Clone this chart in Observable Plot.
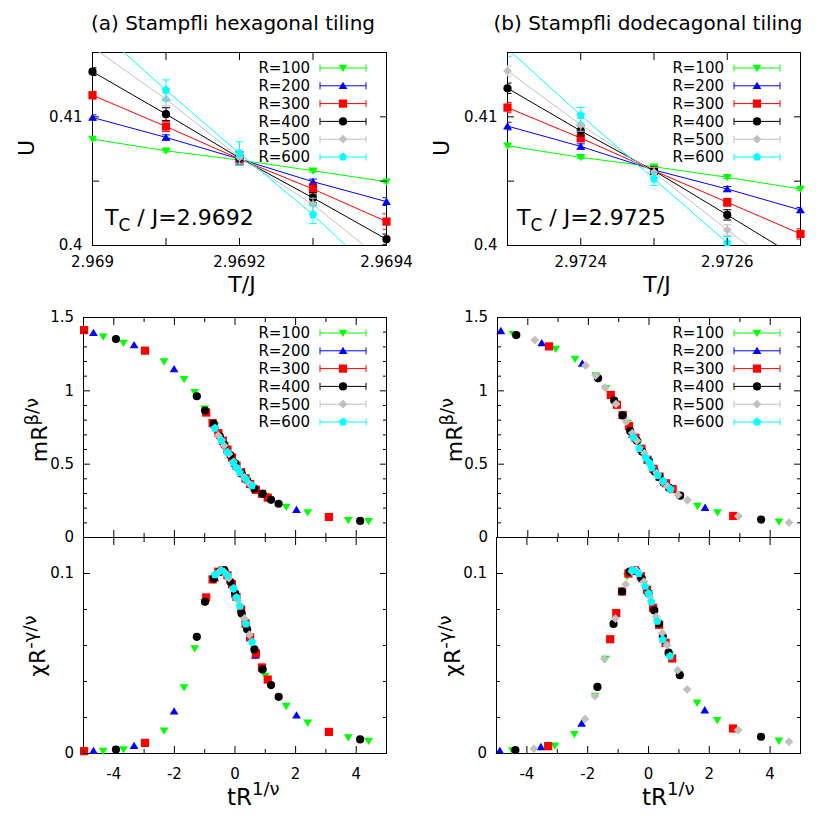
<!DOCTYPE html>
<html>
<head>
<meta charset="utf-8">
<script src="https://cdn.jsdelivr.net/npm/d3@7"></script>
<script src="https://cdn.jsdelivr.net/npm/@observablehq/plot@0.6"></script>
<style>
html,body{margin:0;padding:0;background:#fff;}
#chart{position:relative;width:830px;height:830px;overflow:hidden;background:#fff;}
</style>
</head>
<body>
<div id="chart"></div>
<script>
// ---------------- series ----------------
const seriesR = [100, 200, 300, 400, 500, 600];
const seriesColors = ["#00ff00", "#0000ff", "#ff0000", "#000000", "#c0c0c0", "#00ffff"];

// ---------------- top panels: Binder cumulant U vs T/J ----------------
const tempA = [2.969, 2.9691, 2.9692, 2.9693, 2.9694];
const uA100 = [0.40827, 0.40736, 0.40664, 0.40581, 0.40496];
const uA200 = [0.40995, 0.40840, 0.40672, 0.40496, 0.40341];
const uA300 = [0.41168, 0.40925, 0.40672, 0.40439, 0.40186];
const uA400 = [0.41351, 0.41021, 0.40680, 0.40370, 0.40049];
const uA500 = [0.41540, 0.41137, 0.40685, 0.40318, 0.39860];
const uA600 = [0.41722, 0.41207, 0.40716, 0.40240, 0.39700];
const eA100 = [0.0001, 0.0001, 0.0001, 0.0001, 0.0001];
const eA200 = [0.0002, 0.0002, 0.0003, 0.0002, 0.0003];
const eA300 = [0.0003, 0.0004, 0.0005, 0.0004, 0.0006];
const eA400 = [0.0003, 0.0005, 0.0005, 0.0004, 0.0004];
const eA500 = [0.0004, 0.0005, 0.0006, 0.0005, 0.0005];
const eA600 = [0.0006, 0.0008, 0.0009, 0.0007, 0.0007];

const tempB = [2.9723, 2.9724, 2.9725, 2.9726, 2.9727];
const uB100 = [0.40775, 0.40685, 0.40612, 0.40530, 0.40439];
const uB200 = [0.40928, 0.40770, 0.40587, 0.40439, 0.40276];
const uB300 = [0.41072, 0.40835, 0.40581, 0.40336, 0.40090];
const uB400 = [0.41222, 0.40891, 0.40581, 0.40238, 0.39891];
const uB500 = [0.41357, 0.40938, 0.40568, 0.40121, 0.39700];
const uB600 = [0.41530, 0.41013, 0.40517, 0.40021, 0.39510];
const eB100 = [0.0001, 0.0001, 0.0001, 0.0001, 0.0001];
const eB200 = [0.0003, 0.0002, 0.0002, 0.0002, 0.0002];
const eB300 = [0.0004, 0.0003, 0.0003, 0.0003, 0.0004];
const eB400 = [0.0004, 0.0004, 0.0003, 0.0004, 0.0004];
const eB500 = [0.0004, 0.0005, 0.0004, 0.0004, 0.0004];
const eB600 = [0.0006, 0.0006, 0.0005, 0.0005, 0.0005];

const tcLabels = ["2.9692", "2.9725"];

// ---------------- scaling collapse (a) ----------------
const xA100 = [-4.35, -3.68, -2.34, -1.68, -1.33, -1.00, -0.67, -0.33, 0.00, 0.33, 0.67, 1.00, 1.69, 2.40, 3.74, 4.41];
const mA100 = [1.369, 1.326, 1.199, 1.079, 0.990, 0.877, 0.765, 0.630, 0.505, 0.410, 0.330, 0.282, 0.208, 0.170, 0.118, 0.111];
const cA100 = [0.0013, 0.0022, 0.0126, 0.0367, 0.0583, 0.0840, 0.0975, 0.1005, 0.0885, 0.0730, 0.0545, 0.0430, 0.0263, 0.0170, 0.0089, 0.0069];
const xA200 = [-4.67, -3.33, -2.01, -0.67, 0.00, 0.67, 2.03];
const mA200 = [1.396, 1.312, 1.149, 0.765, 0.505, 0.330, 0.190];
const cA200 = [0.0015, 0.0043, 0.0235, 0.0975, 0.0885, 0.0545, 0.0213];
const xA300 = [-4.98, -2.97, -0.95, -0.74, -0.55, -0.40, -0.25, -0.10, 0.05, 0.20, 0.35, 0.50, 0.69, 0.89, 1.08, 3.10];
const mA300 = [1.414, 1.274, 0.852, 0.780, 0.712, 0.660, 0.600, 0.545, 0.490, 0.445, 0.402, 0.365, 0.325, 0.298, 0.272, 0.140];
const cA300 = [0.0013, 0.0059, 0.0867, 0.0967, 0.1010, 0.1018, 0.0990, 0.0940, 0.0870, 0.0800, 0.0720, 0.0645, 0.0556, 0.0478, 0.0411, 0.0120];
const xA400 = [-3.93, -1.26, -0.99, -0.70, -0.50, -0.35, -0.15, 0.00, 0.22, 0.40, 0.64, 0.91, 1.19, 1.44, 4.13];
const mA400 = [1.353, 0.963, 0.866, 0.775, 0.690, 0.630, 0.560, 0.505, 0.435, 0.390, 0.333, 0.298, 0.257, 0.230, 0.113];
const cA400 = [0.0022, 0.0648, 0.0843, 0.0972, 0.1010, 0.1018, 0.0954, 0.0890, 0.0778, 0.0690, 0.0578, 0.0467, 0.0380, 0.0315, 0.0078];
const xA500 = [-0.55, -0.46, -0.36, -0.20, -0.05, 0.10, 0.31, 0.47];
const mA500 = [0.695, 0.665, 0.627, 0.570, 0.515, 0.465, 0.410, 0.368];
const cA500 = [0.1005, 0.1019, 0.1010, 0.0975, 0.0915, 0.0850, 0.0750, 0.0660];
const xA600 = [-0.66, -0.44, -0.25, -0.05, 0.05, 0.16, 0.36, 0.56];
const mA600 = [0.745, 0.661, 0.582, 0.512, 0.476, 0.442, 0.398, 0.354];
const cA600 = [0.0994, 0.1015, 0.0990, 0.0917, 0.0867, 0.0819, 0.0720, 0.0620];

// ---------------- scaling collapse (b) ----------------
const xB100 = [-4.48, -3.08, -2.44, -1.76, -1.42, -1.06, -0.70, -0.35, 0.00, 0.35, 0.70, 1.00, 1.60, 2.26, 4.29];
const mB100 = [1.385, 1.285, 1.217, 1.104, 1.018, 0.905, 0.780, 0.645, 0.515, 0.410, 0.335, 0.288, 0.215, 0.170, 0.107];
const cB100 = [0.0016, 0.0043, 0.0107, 0.0319, 0.0525, 0.0780, 0.0985, 0.0990, 0.0890, 0.0715, 0.0548, 0.0440, 0.0281, 0.0185, 0.0070];
const xB200 = [-4.89, -3.54, -2.20, -0.87, -0.55, -0.20, 0.15, 0.50, 1.85];
const mB200 = [1.409, 1.326, 1.187, 0.832, 0.705, 0.585, 0.470, 0.375, 0.204];
const cB200 = [0.0015, 0.0037, 0.0167, 0.0900, 0.1010, 0.0970, 0.0815, 0.0635, 0.0241];
const xB300 = [-3.30, -1.26, -1.06, -0.87, -0.66, -0.45, -0.25, -0.05, 0.15, 0.35, 0.56, 0.78, 2.78];
const mB300 = [1.303, 0.972, 0.905, 0.835, 0.760, 0.680, 0.605, 0.530, 0.468, 0.415, 0.370, 0.330, 0.147];
const cB300 = [0.0041, 0.0635, 0.0780, 0.0900, 0.1000, 0.1018, 0.0985, 0.0910, 0.0810, 0.0715, 0.0615, 0.0528, 0.0139];
const xB400 = [-4.38, -1.68, -1.15, -0.87, -0.62, -0.40, -0.22, 0.00, 0.19, 0.34, 0.47, 0.66, 1.03, 3.70];
const mB400 = [1.380, 1.085, 0.934, 0.832, 0.725, 0.660, 0.585, 0.520, 0.450, 0.410, 0.380, 0.340, 0.285, 0.122];
const cB400 = [0.0019, 0.0370, 0.0720, 0.0900, 0.1010, 0.1015, 0.0972, 0.0890, 0.0795, 0.0722, 0.0650, 0.0560, 0.0435, 0.0093];
const xB500 = [-3.77, -2.09, -1.76, -1.45, -1.09, -0.75, -0.55, -0.40, -0.15, 0.05, 0.25, 0.45, 0.61, 0.96, 1.27, 2.95, 4.62];
const mB500 = [1.346, 1.172, 1.104, 1.022, 0.911, 0.790, 0.712, 0.660, 0.575, 0.500, 0.440, 0.380, 0.350, 0.290, 0.254, 0.145, 0.102];
const cB500 = [0.0026, 0.0191, 0.0319, 0.0525, 0.0750, 0.0940, 0.1012, 0.1018, 0.0955, 0.0870, 0.0760, 0.0670, 0.0602, 0.0463, 0.0356, 0.0130, 0.0065];
const xB600 = [-0.52, -0.32, -0.11, 0.00, 0.09, 0.29, 0.47, 0.71];
const mB600 = [0.684, 0.608, 0.545, 0.513, 0.475, 0.423, 0.385, 0.330];
const cB600 = [0.1018, 0.1000, 0.0929, 0.0889, 0.0842, 0.0735, 0.0633, 0.0541];

// ---------------- ticks ----------------
const topATicks = [2.969, 2.9691, 2.9692, 2.9693, 2.9694];
const topALabels = [2.969, 2.9692, 2.9694];
const topBTicks = [2.9723, 2.9724, 2.9725, 2.9726, 2.9727];
const topBLabels = [2.9724, 2.9726];
const uTicks = [0.4, 0.405, 0.41, 0.415];
const uLabels = [0.4, 0.41];
const scaleXMajor = [-4, -2, 0, 2, 4];
const scaleXMinor = [-5, -3, -1, 1, 3, 5];
const scaleXLabels = [-4, -2, 0, 2, 4];
const mYMajor = [0, 0.5, 1, 1.5];
const mYMinor = [0.1, 0.2, 0.3, 0.4, 0.6, 0.7, 0.8, 0.9, 1.1, 1.2, 1.3, 1.4];
const mYLabels = [0, 0.5, 1, 1.5];
const cYMajor = [0, 0.1];
const cYMinor = [0.02, 0.04, 0.06, 0.08, 0.12];
const cYLabels = [0, 0.1];

// ---------------- symbols ----------------
const FONT = "DejaVu Sans";
function poly(c, pts) { c.moveTo(pts[0][0], pts[0][1]); for (let k = 1; k < pts.length; k++) c.lineTo(pts[k][0], pts[k][1]); c.closePath(); }
const symTriDown = {draw(c) { poly(c, [[-4.4, -3.3], [4.4, -3.3], [0, 4.0]]); }};
const symTriUp = {draw(c) { poly(c, [[0, -4.0], [4.4, 3.3], [-4.4, 3.3]]); }};
const symSquare = {draw(c) { poly(c, [[-4.1, -4.1], [4.1, -4.1], [4.1, 4.1], [-4.1, 4.1]]); }};
const symCircle = {draw(c) { c.moveTo(4.1, 0); c.arc(0, 0, 4.1, 0, 2 * Math.PI); c.closePath(); }};
const symDiamond = {draw(c) { poly(c, [[0, -4.4], [4.4, 0], [0, 4.4], [-4.4, 0]]); }};
const symPent = {draw(c) { const r = 4.4, pts = []; for (let k = 0; k < 5; k++) { const a = -Math.PI / 2 + k * 2 * Math.PI / 5; pts.push([r * Math.cos(a), r * Math.sin(a)]); } poly(c, pts); }};
const symCap = {draw(c) { c.moveTo(-4, 0); c.lineTo(4, 0); }};
const seriesSymbols = [symTriDown, symTriUp, symSquare, symCircle, symDiamond, symPent];

const chart = document.getElementById("chart");
const fmt = d => String(d);
const TICK = 7, MINOR = 4;

function axisMarks(o) {
  const m = [];
  const xs = [[o.xMajor, TICK], [o.xMinor, MINOR]];
  const ys = [[o.yMajor, TICK], [o.yMinor, MINOR]];
  for (const [t, len] of xs) if (t.length) {
    m.push(Plot.axisX(t, {anchor: "bottom", tickSize: -len, fill: "none", label: null}));
    m.push(Plot.axisX(t, {anchor: "top", tickSize: -len, fill: "none", label: null}));
  }
  for (const [t, len] of ys) if (t.length) {
    m.push(Plot.axisY(t, {anchor: "left", tickSize: -len, fill: "none", label: null}));
    m.push(Plot.axisY(t, {anchor: "right", tickSize: -len, fill: "none", label: null}));
  }
  if (o.xLabels) m.push(Plot.axisX(o.xLabels, {anchor: "bottom", tickSize: 0, tickPadding: o.xPad, tickFormat: fmt, label: null}));
  m.push(Plot.axisY(o.yLabels, {anchor: "left", tickSize: 0, tickPadding: o.yPad, tickFormat: fmt, label: null}));
  return m;
}

function place(svg, left, top) {
  svg.style.position = "absolute";
  svg.style.left = left + "px";
  svg.style.top = top + "px";
  chart.appendChild(svg);
  return svg;
}

function addLegend(svg, fr, ft) {
  const g = d3.select(svg).append("g").attr("font-family", FONT);
  seriesR.forEach((R, i) => {
    const y = ft + 16 + 17.8 * i, col = seriesColors[i];
    g.append("text").attr("x", fr - 76).attr("y", y).attr("dy", "0.36em")
      .attr("text-anchor", "end").attr("font-size", 15).attr("fill", "black").text("R=" + R);
    g.append("path").attr("d", `M${fr - 66},${y}H${fr - 20}M${fr - 66},${y - 3.5}V${y + 3.5}M${fr - 20},${y - 3.5}V${y + 3.5}`)
      .attr("stroke", col).attr("stroke-width", 1).attr("fill", "none");
    const p = d3.path(); seriesSymbols[i].draw(p);
    g.append("path").attr("transform", `translate(${fr - 43},${y})`).attr("d", p.toString()).attr("fill", col);
  });
}

function topPanel(o) {
  const [ml, mr, mt, mb] = o.margins;
  const marks = [Plot.frame({stroke: "black"})];
  o.values.forEach((vals, i) => {
    const rows = o.temps.map((t, j) => ({t, u: vals[j], e: o.errors[i][j]}));
    const col = seriesColors[i];
    marks.push(Plot.line(rows, {x: "t", y: "u", stroke: col, strokeWidth: 1, clip: true}));
    marks.push(Plot.ruleX(rows, {x: "t", y1: d => d.u - d.e, y2: d => d.u + d.e, stroke: col, strokeWidth: 1, clip: true}));
    marks.push(Plot.dot(rows, {x: "t", y: d => d.u - d.e, symbol: symCap, r: 4, fill: "none", stroke: col, strokeWidth: 1, clip: true}));
    marks.push(Plot.dot(rows, {x: "t", y: d => d.u + d.e, symbol: symCap, r: 4, fill: "none", stroke: col, strokeWidth: 1, clip: true}));
    marks.push(Plot.dot(rows.filter(d => d.u >= o.yDomain[0] && d.u <= o.yDomain[1]),
      {x: "t", y: "u", symbol: seriesSymbols[i], r: 4, fill: col, stroke: "none"}));
  });
  marks.push(...axisMarks({xMajor: o.xTicks, xMinor: [], yMajor: uTicks, yMinor: [], xLabels: o.xLabels, yLabels: uLabels, xPad: 11, yPad: 10}));
  const svg = Plot.plot({
    width: 415, height: 300, marginLeft: ml, marginRight: mr, marginTop: mt, marginBottom: mb,
    x: {domain: o.xDomain, label: null},
    y: {domain: o.yDomain, label: null},
    style: {fontFamily: FONT, fontSize: "15px", background: "transparent", color: "black", overflow: "visible"},
    marks
  });
  place(svg, o.left, o.top);
  addLegend(svg, 415 - mr, mt);
  return svg;
}

function scatterPanel(o) {
  const [ml, mr, mt, mb] = o.margins;
  const marks = [Plot.frame({stroke: "black"})];
  o.xs.forEach((xv, i) => {
    const rows = xv.map((x, j) => ({x, y: o.ys[i][j]}));
    marks.push(Plot.dot(rows, {x: "x", y: "y", symbol: seriesSymbols[i], r: 4, fill: seriesColors[i], stroke: "none"}));
  });
  marks.push(...axisMarks({xMajor: scaleXMajor, xMinor: scaleXMinor, yMajor: o.yMajor, yMinor: o.yMinor,
    xLabels: o.xLabels, yLabels: o.yLabels, xPad: 15, yPad: 9.5}));
  const svg = Plot.plot({
    width: 415, height: o.height, marginLeft: ml, marginRight: mr, marginTop: mt, marginBottom: mb,
    x: {domain: [-5, 5], label: null},
    y: {domain: o.yDomain, label: null},
    style: {fontFamily: FONT, fontSize: "15px", background: "transparent", color: "black", overflow: "visible"},
    marks
  });
  place(svg, o.left, o.top);
  if (o.legend) addLegend(svg, 415 - mr, mt);
  return svg;
}

// ---- top row ----
topPanel({left: 0, top: 0, margins: [92, 29, 52, 55], xDomain: [2.969, 2.9694], yDomain: [0.4, 0.415],
  temps: tempA, values: [uA100, uA200, uA300, uA400, uA500, uA600],
  errors: [eA100, eA200, eA300, eA400, eA500, eA600], xTicks: topATicks, xLabels: topALabels});
topPanel({left: 415, top: 0, margins: [92, 30, 52, 55], xDomain: [2.9723, 2.9727], yDomain: [0.4, 0.415],
  temps: tempB, values: [uB100, uB200, uB300, uB400, uB500, uB600],
  errors: [eB100, eB200, eB300, eB400, eB500, eB600], xTicks: topBTicks, xLabels: topBLabels});

// ---- middle row: magnetization ----
scatterPanel({left: 0, top: 300, height: 250, margins: [83, 29, 17, 13], yDomain: [0, 1.5],
  xs: [xA100, xA200, xA300, xA400, xA500, xA600], ys: [mA100, mA200, mA300, mA400, mA500, mA600],
  yMajor: mYMajor, yMinor: mYMinor, yLabels: mYLabels, xLabels: null, legend: true});
scatterPanel({left: 415, top: 300, height: 250, margins: [82, 30, 17, 13], yDomain: [0, 1.5],
  xs: [xB100, xB200, xB300, xB400, xB500, xB600], ys: [mB100, mB200, mB300, mB400, mB500, mB600],
  yMajor: mYMajor, yMinor: mYMinor, yLabels: mYLabels, xLabels: null, legend: true});

// ---- bottom row: susceptibility ----
scatterPanel({left: 0, top: 530, height: 300, margins: [83, 29, 7, 77], yDomain: [0, 0.12],
  xs: [xA100, xA200, xA300, xA400, xA500, xA600], ys: [cA100, cA200, cA300, cA400, cA500, cA600],
  yMajor: cYMajor, yMinor: cYMinor, yLabels: cYLabels, xLabels: scaleXLabels, legend: false});
scatterPanel({left: 415, top: 530, height: 300, margins: [81, 30, 7, 77], yDomain: [0, 0.12],
  xs: [xB100, xB200, xB300, xB400, xB500, xB600], ys: [cB100, cB200, cB300, cB400, cB500, cB600],
  yMajor: cYMajor, yMinor: cYMinor, yLabels: cYLabels, xLabels: scaleXLabels, legend: false});

// ---------------- overlay texts ----------------
const ov = d3.select(chart).append("svg").attr("width", 830).attr("height", 830)
  .style("position", "absolute").style("left", "0px").style("top", "0px").style("pointer-events", "none")
  .attr("font-family", FONT);
function rich(x, y, parts, anchor, rotate) {
  const t = ov.append("text").attr("text-anchor", anchor).attr("fill", "black");
  if (rotate) t.attr("transform", `translate(${x},${y}) rotate(-90)`);
  else t.attr("x", x).attr("y", y);
  parts.forEach(([s, fs, dy]) => t.append("tspan").attr("font-size", fs).attr("dy", dy).text(s));
}
rich(233, 30, [["(a) Stampfli hexagonal tiling", 20, 0]], "middle");
rich(648, 30, [["(b) Stampfli dodecagonal tiling", 20, 0]], "middle");
[0, 415].forEach((dx, k) => {
  rich(34 + dx, 148, [["U", 22, 0]], "middle", true);
  rich(242 + dx, 292, [["T/J", 22, 0]], "middle");
  rich((k ? 102 : 105) + dx, 225, [["T", 22, 0], ["C", 17, 6], [" / J=" + tcLabels[k], 22, -6]], "start");
  rich(47 + dx, 430, [["mR", 22, 0], ["β/ν", 18, -9]], "middle", true);
  rich(45 + dx, 646, [["χR", 22, 0], ["-γ/ν", 18, -9]], "middle", true);
  rich(227 + dx, 805, [["tR", 23, 0], ["1/ν", 18, -10]], "start");
});
</script>
</body>
</html>
